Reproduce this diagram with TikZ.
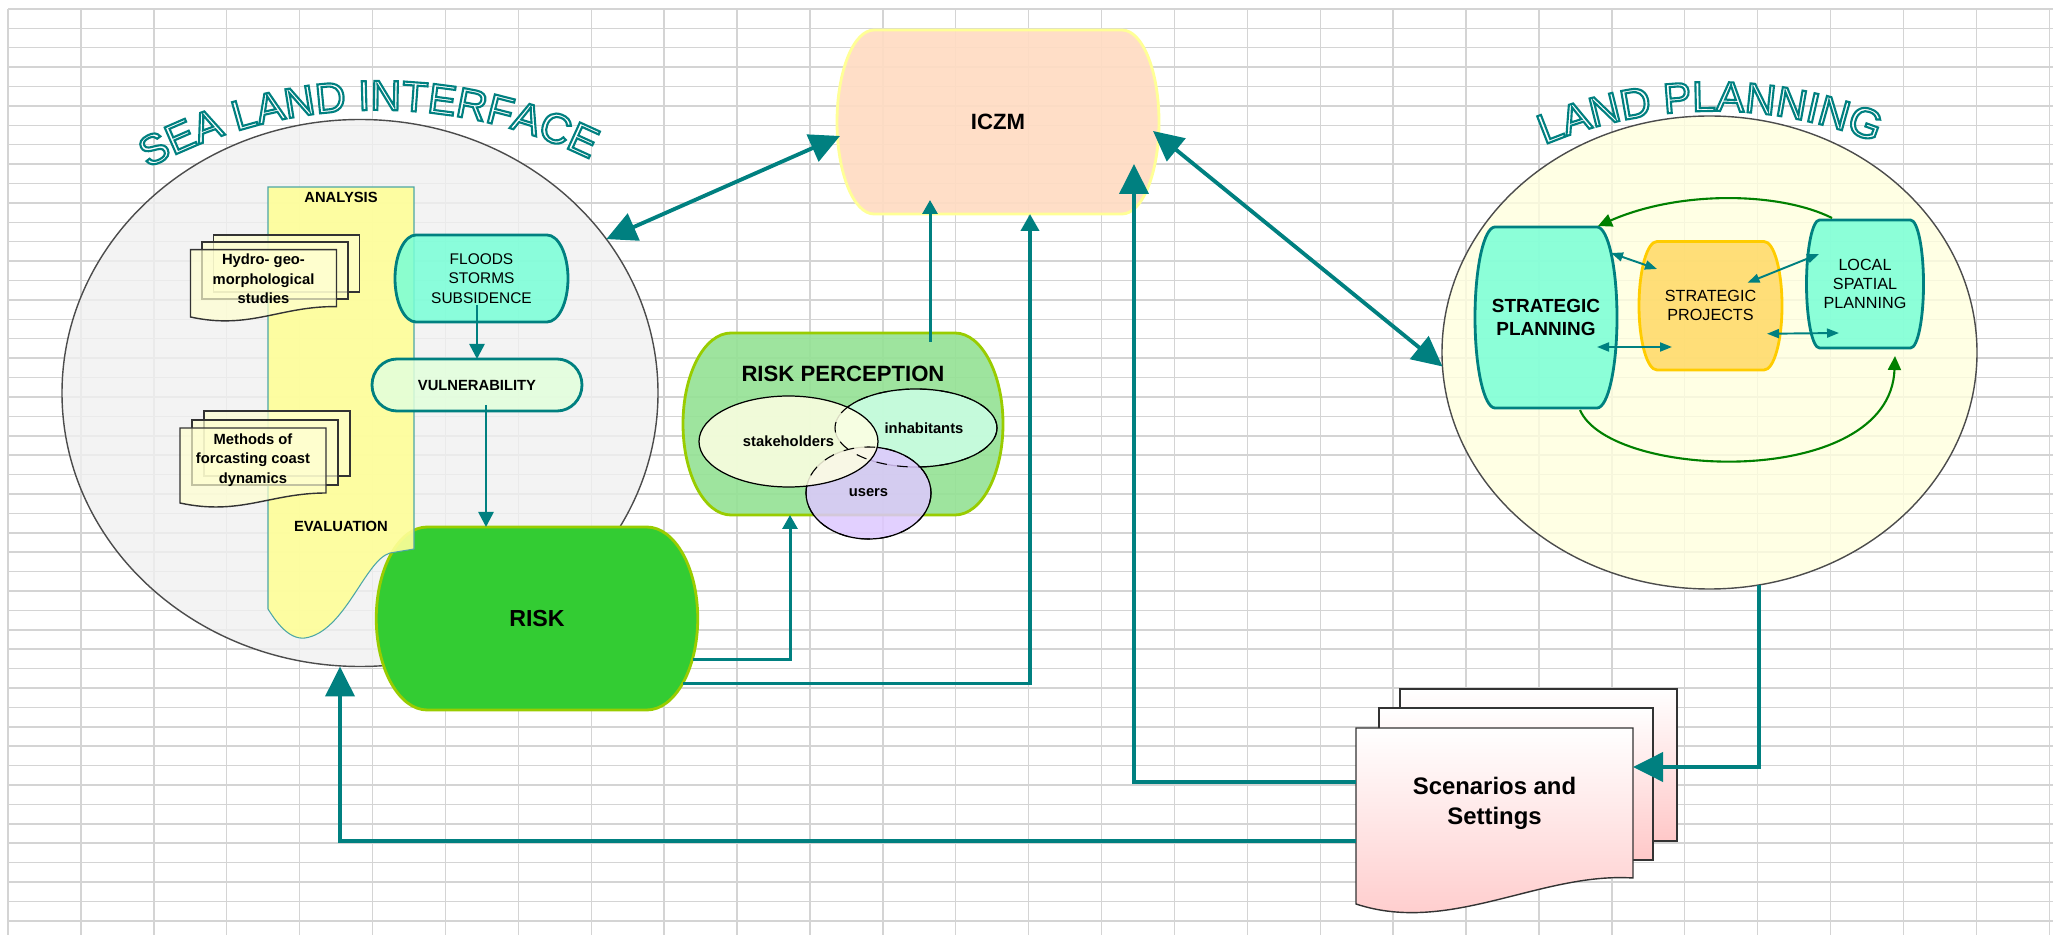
\documentclass[tikz,border=0pt]{standalone}
\usepackage{fontspec}
\setmainfont{Liberation Sans}
\usetikzlibrary{arrows.meta, calc, shapes.geometric, decorations.text}

\definecolor{arrowteal}{RGB}{0,128,128}
\definecolor{cellgrid}{RGB}{212,212,212}
\definecolor{seagray}{RGB}{240,240,240}
\definecolor{landcream}{RGB}{255,255,222}
\definecolor{bandyellow}{RGB}{255,255,153}
\definecolor{doccream}{RGB}{255,255,208}
\definecolor{aqua}{RGB}{120,255,215}
\definecolor{vulngreen}{RGB}{226,255,220}
\definecolor{riskgreen}{RGB}{51,204,51}
\definecolor{limeborder}{RGB}{153,204,0}
\definecolor{peach}{RGB}{255,220,195}
\definecolor{paleyellow}{RGB}{255,255,150}
\definecolor{rpgreen}{RGB}{150,226,150}
\definecolor{stakecream}{RGB}{255,255,228}
\definecolor{inhmint}{RGB}{204,255,230}
\definecolor{userlilac}{RGB}{222,200,255}
\definecolor{projgold}{RGB}{255,217,102}
\definecolor{goldborder}{RGB}{255,204,0}
\definecolor{scenpink}{RGB}{255,200,200}
\definecolor{arcgreen}{RGB}{0,128,0}

% fonts
\newcommand{\titlefont}{\fontsize{12}{12}\selectfont}
\newcommand{\bigbold}{\bfseries\fontsize{6.3}{7.5}\selectfont}
\newcommand{\smallbold}{\bfseries\fontsize{4.2}{5.5}\selectfont}
\newcommand{\smallplain}{\fontsize{4.4}{5.5}\selectfont}

% outlined word-art letters: white fill, teal stroke
\newcommand{\wordart}[1]{\special{pdf:literal direct q 0 0.502 0.502 RG 1 1 1 rg 2 Tr 0.6 w}#1\special{pdf:literal direct Q}}

% barrel: a box whose left and right sides bulge out as half ellipses
\makeatletter
\pgfkeys{/pgf/barrel bulge/.initial=2mm}
\tikzset{barrel bulge/.code={\pgfkeys{/pgf/barrel bulge=#1}}}
\pgfdeclareshape{barrel}{%
  \inheritsavedanchors[from=rectangle]%
  \inheritanchorborder[from=rectangle]%
  \inheritanchor[from=rectangle]{center}%
  \inheritanchor[from=rectangle]{north}%
  \inheritanchor[from=rectangle]{south}%
  \inheritanchor[from=rectangle]{east}%
  \inheritanchor[from=rectangle]{west}%
  \inheritanchor[from=rectangle]{north east}%
  \inheritanchor[from=rectangle]{north west}%
  \inheritanchor[from=rectangle]{south east}%
  \inheritanchor[from=rectangle]{south west}%
  \inheritanchor[from=rectangle]{text}%
  \inheritanchor[from=rectangle]{base}%
  \inheritanchor[from=rectangle]{mid}%
  \backgroundpath{%
    \southwest \edef\brlx{\the\pgf@x}\edef\brly{\the\pgf@y}%
    \northeast \edef\brrx{\the\pgf@x}\edef\brry{\the\pgf@y}%
    \pgfmathsetlengthmacro\brc{\pgfkeysvalueof{/pgf/barrel bulge}}%
    \pgfmathsetlengthmacro\brmy{(\brly+\brry)/2}%
    \pgfmathsetlengthmacro\brk{0.276*(\brry-\brly)}%
    \pgfpathmoveto{\pgfpoint{\brlx+\brc}{\brry}}%
    \pgfpathlineto{\pgfpoint{\brrx-\brc}{\brry}}%
    \pgfpathcurveto{\pgfpoint{\brrx-0.448*\brc}{\brry}}{\pgfpoint{\brrx}{\brmy+\brk}}{\pgfpoint{\brrx}{\brmy}}%
    \pgfpathcurveto{\pgfpoint{\brrx}{\brmy-\brk}}{\pgfpoint{\brrx-0.448*\brc}{\brly}}{\pgfpoint{\brrx-\brc}{\brly}}%
    \pgfpathlineto{\pgfpoint{\brlx+\brc}{\brly}}%
    \pgfpathcurveto{\pgfpoint{\brlx+0.448*\brc}{\brly}}{\pgfpoint{\brlx}{\brmy-\brk}}{\pgfpoint{\brlx}{\brmy}}%
    \pgfpathcurveto{\pgfpoint{\brlx}{\brmy+\brk}}{\pgfpoint{\brlx+0.448*\brc}{\brry}}{\pgfpoint{\brlx+\brc}{\brry}}%
    \pgfpathclose
  }%
}
\makeatother

\begin{document}
\begin{tikzpicture}[
    x=0.1mm, y=-0.1mm, % one unit per pixel, y runs downwards
    >=Latex,
    bigtip/.tip={Triangle[length=3mm, width=2.9mm]}, % large teal heads
    midtip/.tip={Triangle[length=1.7mm, width=1.8mm]},
    smalltip/.tip={Triangle[length=1.4mm, width=1.5mm]},
    tinytip/.tip={Triangle[length=1.2mm, width=0.9mm]},
    cellline/.style={draw=cellgrid, line width=0.4pt}, % spreadsheet cells
    field/.style={ellipse, draw=black!70, line width=0.4pt, fill opacity=0.8, inner sep=0pt, outer sep=0pt}, % the two big fields
    box/.style={shape=barrel, outer sep=0pt, inner sep=0pt, align=center, line width=0.8pt, fill opacity=0.85, text opacity=1},
    venn/.style={ellipse, draw=black, line width=0.35pt, fill opacity=0.85, text opacity=1, inner sep=0pt, font=\smallbold},
    page/.style={draw=black!80, line width=0.4pt, fill opacity=0.7}, % stacked documents
    link/.style={arrowteal, line width=1.1pt}, % connectors between the blocks
    thinlink/.style={arrowteal, line width=0.75pt},
    exchange/.style={arrowteal, line width=0.55pt, tinytip-tinytip}, % inside land planning
    cycleback/.style={arcgreen, line width=0.6pt, -{Triangle[length=1.4mm, width=1.3mm]}}
]

    % page and spreadsheet grid
    \fill[white] (0,0) rectangle (2053,935);
    \useasboundingbox (0,0) rectangle (2053,935);
    \foreach \c in {0,...,28}
        \draw[cellline] ({8+72.9*\c},9) -- ({8+72.9*\c},935);
    \foreach \r in {0,...,47}
        \draw[cellline] (8,{9+19.4*\r}) -- (2053,{9+19.4*\r});

    % the two fields
    \node[field, fill=seagray, minimum width=59.6mm, minimum height=54.7mm] (sea) at (360,393) {};
    \node[field, fill=landcream, minimum width=53.5mm, minimum height=47.3mm] (land) at (1709.5,352.5) {};

    % word-art titles
    {\titlefont
    \path[decorate, decoration={text effects along path,
        text={SEA LAND INTERFACE}, text align=center,
        text effects/.cd, text along path, character command=\wordart}]
        (378,591) ++(-136.2:481) arc[start angle=-136.2, end angle=-46.2, radius=481];
    \path[decorate, decoration={text effects along path,
        text={LAND PLANNING}, text align=center,
        text effects/.cd, text along path, character command=\wordart}]
        (1713,547) ++(-135.4:436) arc[start angle=-135.4, end angle=-45.4, radius=436];
    }

    % ICZM
    \node[box, fill=peach, draw=paleyellow, fill opacity=0.92, minimum width=32.2mm, minimum height=18.4mm,
          barrel bulge=3.7mm, font=\bigbold] (iczm) at (998,122) {ICZM};

    % risk perception
    \node[box, fill=rpgreen, draw=limeborder, fill opacity=0.92, minimum width=32mm, minimum height=18.2mm,
          barrel bulge=4.8mm] (rp) at (843,424) {};
    \node[font=\bigbold] (rptitle) at (843,374) {RISK PERCEPTION};
    \node[venn, fill=inhmint, minimum width=16.2mm, minimum height=7.8mm] (inh) at (916,428) {\hspace{1.6mm}inhabitants};
    \node[venn, fill=userlilac, minimum width=12.5mm, minimum height=9.2mm] (users) at (868.5,493) {users};
    \node[venn, fill=stakecream, minimum width=17.9mm, minimum height=9.1mm] (stake) at (788.5,441.5) {stakeholders};
    \draw[dashed, line width=0.3pt] (inh.center) ellipse [x radius=81, y radius=39];
    \draw[dashed, line width=0.3pt] (users.center) ellipse [x radius=62.5, y radius=46];

    % risk
    \node[box, fill=riskgreen, draw=limeborder, fill opacity=1, minimum width=32.15mm, minimum height=18.3mm,
          barrel bulge=5.1mm, font=\bfseries\fontsize{6.6}{8}\selectfont] (risk) at (537,618.5) {RISK};

    % analysis / evaluation band
    \draw[draw=arrowteal!70, line width=0.3pt, fill=bandyellow, fill opacity=0.9]
        (268,187) -- (414,187) -- (414,549) -- (390,553)
        .. controls (365,560) and (345,632) .. (305,638)
        .. controls (288,640) and (275,620) .. (268,609) -- cycle;
    \node[font=\smallbold] (analysis) at (341,197) {ANALYSIS};
    \node[font=\smallbold] (evaluation) at (341,526) {EVALUATION};

    % study documents
    \draw[page, fill=doccream] (213.5,235) rectangle (359.5,292);
    \draw[page, fill=doccream] (202,242) rectangle (348,299);
    \draw[page, fill=doccream] (190.5,249.6) -- (336.5,249.6) -- (336.5,306.6)
        .. controls (280,306) and (250,330) .. (190.5,317) -- cycle;
    \node[font=\smallbold, align=center] (hydro) at (263.5,279) {Hydro- geo-\\morphological\\studies};

    \draw[page, fill=doccream] (204,411) rectangle (350,476);
    \draw[page, fill=doccream] (192,420) rectangle (338,485);
    \draw[page, fill=doccream] (180,428) -- (326,428) -- (326,493)
        .. controls (270,493) and (240,516) .. (180,503) -- cycle;
    \node[font=\smallbold, align=center] (methods) at (253,460) {Methods of\\forcasting coast\\dynamics};

    % hazards and vulnerability
    \node[box, fill=aqua, draw=arrowteal, minimum width=17.3mm, minimum height=8.7mm, barrel bulge=2.1mm,
          font=\smallplain] (floods) at (481.5,278.5) {FLOODS\\STORMS\\SUBSIDENCE};
    \node[box, fill=vulngreen, draw=arrowteal, minimum width=21mm, minimum height=5.2mm, barrel bulge=2.5mm,
          font=\smallbold] (vuln) at (477,385) {VULNERABILITY};

    % land planning blocks
    \node[box, fill=aqua, draw=arrowteal, minimum width=14.2mm, minimum height=18.1mm, barrel bulge=2mm,
          font=\bfseries\fontsize{5.4}{6.7}\selectfont] (sp) at (1546,317.5) {STRATEGIC\\PLANNING};
    \node[box, fill=projgold, draw=goldborder, minimum width=14.3mm, minimum height=12.85mm, barrel bulge=1.8mm,
          font=\fontsize{4.6}{5.5}\selectfont] (spr) at (1710.5,305.75) {STRATEGIC\\PROJECTS};
    \node[box, fill=aqua, draw=arrowteal, minimum width=11.7mm, minimum height=12.8mm, barrel bulge=1.3mm,
          font=\fontsize{4.6}{5.4}\selectfont] (lsp) at (1865,284) {LOCAL\\SPATIAL\\PLANNING};

    % scenarios and settings
    \draw[page, fill opacity=1, top color=white, bottom color=scenpink] (1400,689) rectangle (1677,841);
    \draw[page, fill opacity=1, top color=white, bottom color=scenpink] (1379,708) rectangle (1653,860);
    \draw[page, fill opacity=1, top color=white, bottom color=scenpink] (1356,728) -- (1633,728) -- (1633,878)
        .. controls (1540,872) and (1450,935) .. (1356,904) -- cycle;
    \node[font=\bfseries\fontsize{6.8}{8.5}\selectfont, align=center, minimum width=27.7mm, minimum height=15mm,
          inner sep=0pt, outer sep=0pt] (scen) at (1494.5,803) {Scenarios and\\Settings};

    % flow inside the sea land interface
    \draw[thinlink, -{Triangle[length=1.5mm, width=1.5mm]}] ($(floods.south -| vuln.north)+(0,-17)$) -- (vuln.north);
    \coordinate (vulnout) at ($(vuln.south)+(9,-6)$);
    \draw[thinlink, -{Triangle[length=1.5mm, width=1.5mm]}] (vulnout) -- (vulnout |- risk.north);

    % links with ICZM
    \draw[link, bigtip-bigtip] (sea.32) -- ($(iczm.west)+(3,14)$);
    \draw[link, bigtip-bigtip] ($(iczm.east)+(-6,9)$) -- (land.183);
    \draw[thinlink, line width=0.85pt, -smalltip] ($(rp.north)+(87,9)$) -- ($(iczm.south)+(-68,-14)$);
    \draw[link, -midtip] ($(risk.east)+(-15,65)$) -| ($(iczm.south)+(32,0)$);
    \draw[thinlink, line width=0.85pt, -smalltip] ($(risk.east)+(-5,41)$) -| ($(rp.south)+(-53,0)$);
    \draw[link, -bigtip] ($(scen.west)+(0,-21)$) -| ($(iczm.south east)+(-25,-50)$);
    \draw[link, -bigtip] ($(scen.west)+(0,38)$) -| ($(sea.south)+(-20,0)$);
    \draw[link, -bigtip] (land.-78.5) |- ($(scen.east)+(0,-36)$);

    % exchanges inside land planning
    \draw[exchange] ($(sp.north east)+(-6,26)$) -- ($(spr.north west)+(18,27.5)$);
    \draw[exchange] ($(sp.east)+(-20,29.5)$) -- ($(spr.west)+(33,41.25)$);
    \draw[exchange] ($(spr.center)+(37,-23)$) -- ($(lsp.west)+(12.5,-30)$);
    \draw[exchange] ($(spr.east)+(-15,28)$) -- ($(lsp.west)+(32.5,49)$);
    \draw[cycleback] ($(lsp.north)+(-33,-2)$) .. controls (1780,192) and (1680,190) .. ($(sp.north east)+(-19,-1)$);
    \draw[cycleback] ($(sp.south)+(34,2)$) .. controls (1610,480) and (1890,490) .. ($(lsp.south east)+(-28.5,8)$);

\end{tikzpicture}
\end{document}
